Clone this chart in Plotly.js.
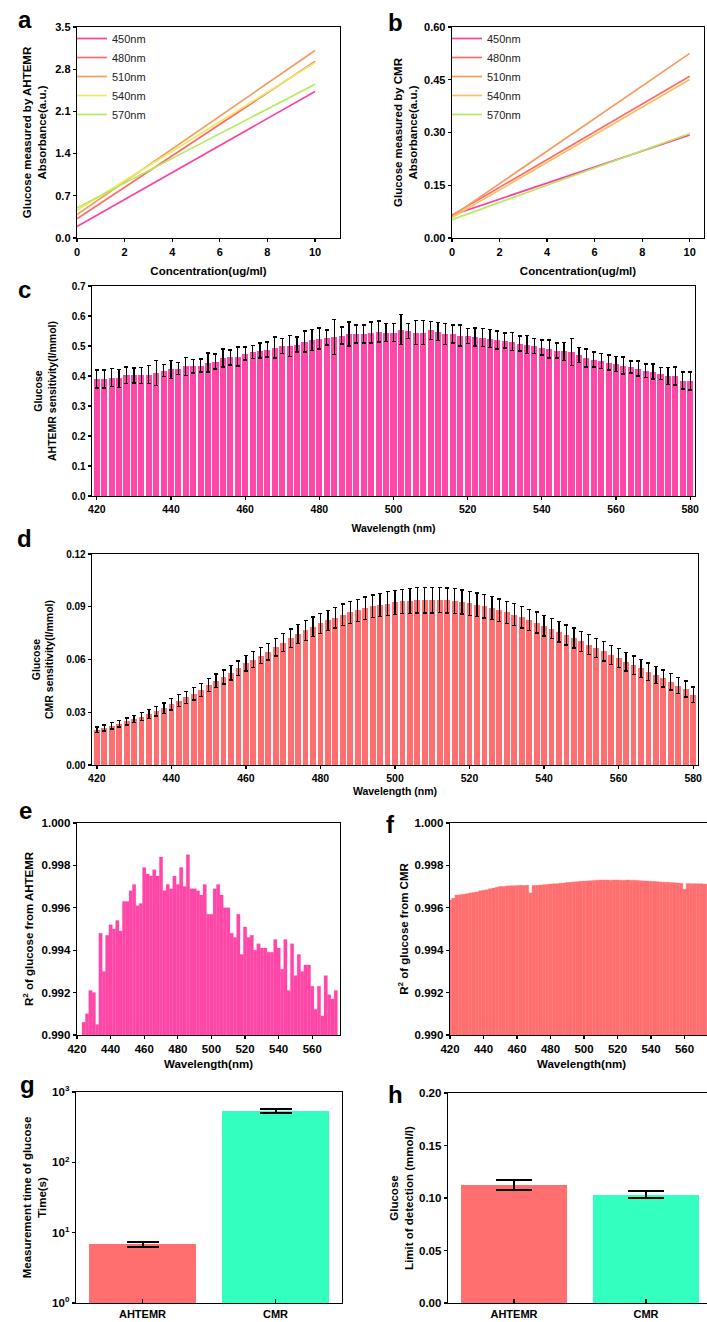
<!DOCTYPE html>
<html><head><meta charset="utf-8">
<script src="https://cdn.plot.ly/plotly-3.0.1.min.js"></script>
<style>html,body{margin:0;padding:0;overflow:hidden;background:#fff;}#chart{width:720px;height:1322px;}</style>
</head><body><div id="chart"></div>
<script>
// ---------- data ----------
const conc = [0, 10];
const seriesNames = ['450nm', '480nm', '510nm', '540nm', '570nm'];
const a450 = [0.19, 2.43];
const a480 = [0.32, 2.93];
const a510 = [0.39, 3.11];
const a540 = [0.46, 2.91];
const a570 = [0.50, 2.55];
const b450 = [0.065, 0.293];
const b480 = [0.065, 0.460];
const b510 = [0.062, 0.525];
const b540 = [0.058, 0.451];
const b570 = [0.052, 0.297];

const wlCD = [420,422,424,426,428,430,432,434,436,438,440,442,444,446,448,450,452,454,456,458,460,462,464,466,468,470,472,474,476,478,480,482,484,486,488,490,492,494,496,498,500,502,504,506,508,510,512,514,516,518,520,522,524,526,528,530,532,534,536,538,540,542,544,546,548,550,552,554,556,558,560,562,564,566,568,570,572,574,576,578,580];
const sensAHTEMR = [0.390,0.390,0.395,0.392,0.402,0.402,0.402,0.405,0.410,0.418,
  0.422,0.425,0.432,0.432,0.435,0.445,0.448,0.460,0.462,0.465,
  0.475,0.480,0.485,0.488,0.495,0.500,0.500,0.505,0.515,0.520,
  0.525,0.528,0.530,0.535,0.540,0.540,0.540,0.545,0.548,0.545,
  0.545,0.555,0.550,0.545,0.545,0.552,0.548,0.540,0.540,0.535,
  0.533,0.530,0.528,0.525,0.520,0.518,0.515,0.508,0.505,0.500,
  0.495,0.490,0.485,0.482,0.480,0.470,0.460,0.455,0.450,0.445,
  0.440,0.435,0.430,0.425,0.418,0.415,0.408,0.400,0.400,0.385,0.383];
const sensAHTEMRErr = [0.030,0.030,0.030,0.030,0.028,0.025,0.027,0.030,0.042,0.020,
  0.030,0.020,0.030,0.022,0.022,0.032,0.025,0.030,0.025,0.032,
  0.022,0.022,0.025,0.025,0.035,0.025,0.035,0.025,0.035,0.035,
  0.035,0.025,0.058,0.028,0.040,0.030,0.030,0.035,0.035,0.030,
  0.030,0.050,0.025,0.040,0.040,0.030,0.030,0.035,0.030,0.035,
  0.025,0.030,0.030,0.030,0.030,0.025,0.030,0.025,0.030,0.025,
  0.025,0.030,0.025,0.030,0.045,0.025,0.030,0.025,0.025,0.025,
  0.025,0.028,0.020,0.025,0.022,0.025,0.020,0.028,0.030,0.028,0.030];
const sensCMR = [0.0200,0.0210,0.0222,0.0235,0.0248,0.0262,0.0275,0.0290,0.0305,0.0322,
  0.0345,0.0365,0.0385,0.0405,0.0428,0.0455,0.0478,0.0500,0.0525,0.0550,
  0.0578,0.0600,0.0622,0.0645,0.0670,0.0695,0.0720,0.0745,0.0765,0.0785,
  0.0805,0.0822,0.0838,0.0855,0.0868,0.0880,0.0892,0.0902,0.0910,0.0918,
  0.0925,0.0930,0.0933,0.0937,0.0938,0.0938,0.0938,0.0936,0.0932,0.0927,
  0.0920,0.0912,0.0902,0.0892,0.0880,0.0868,0.0855,0.0840,0.0825,0.0810,
  0.0793,0.0776,0.0758,0.0740,0.0722,0.0703,0.0685,0.0666,0.0646,0.0627,
  0.0607,0.0588,0.0568,0.0550,0.0530,0.0512,0.0492,0.0473,0.0452,0.0432,0.0400];
const sensCMRErr = [0.0016,0.0017,0.0018,0.0019,0.0020,0.0021,0.0023,0.0025,0.0027,0.0030,
  0.0033,0.0034,0.0035,0.0036,0.0037,0.0038,0.0039,0.0040,0.0041,0.0042,
  0.0043,0.0045,0.0046,0.0048,0.0050,0.0051,0.0053,0.0054,0.0055,0.0056,
  0.0057,0.0058,0.0059,0.0060,0.0062,0.0063,0.0064,0.0065,0.0066,0.0067,
  0.0068,0.0069,0.0070,0.0072,0.0073,0.0073,0.0072,0.0071,0.0070,0.0069,
  0.0068,0.0067,0.0066,0.0065,0.0064,0.0063,0.0062,0.0061,0.0060,0.0060,
  0.0059,0.0058,0.0058,0.0057,0.0057,0.0056,0.0056,0.0055,0.0055,0.0054,
  0.0054,0.0053,0.0052,0.0051,0.0050,0.0049,0.0048,0.0047,0.0046,0.0045,0.0044];

const wlE = [424,426,428,430,432,434,436,438,440,442,444,446,448,450,452,454,456,458,460,462,464,466,468,470,472,474,476,478,480,482,484,486,488,490,492,494,496,498,500,502,504,506,508,510,512,514,516,518,520,522,524,526,528,530,532,534,536,538,540,542,544,546,548,550,552,554,556,558,560,562,564,566,568,570,572,574];
const r2AHTEMR = [0.9906,0.9910,0.9921,0.9920,0.9905,0.9948,0.9930,0.9947,0.9952,0.9950,
  0.9954,0.9949,0.9963,0.9963,0.9968,0.9971,0.9961,0.9962,0.9979,0.9976,
  0.9975,0.9978,0.9975,0.9984,0.9968,0.9971,0.9969,0.9975,0.9971,0.9979,
  0.9970,0.9985,0.9969,0.9969,0.9968,0.9966,0.9971,0.9957,0.9957,0.9969,
  0.9971,0.9966,0.9960,0.9960,0.9948,0.9946,0.9957,0.9938,0.9951,0.9946,
  0.9947,0.9940,0.9943,0.9941,0.9941,0.9939,0.9939,0.9945,0.9941,0.9931,
  0.9945,0.9921,0.9943,0.9928,0.9938,0.9930,0.9933,0.9933,0.9923,0.9912,
  0.9923,0.9909,0.9928,0.9919,0.9917,0.9921];

const wlF = [420,422,424,426,428,430,432,434,436,438,440,442,444,446,448,450,452,454,456,458,460,462,464,466,468,470,472,474,476,478,480,482,484,486,488,490,492,494,496,498,500,502,504,506,508,510,512,514,516,518,520,522,524,526,528,530,532,534,536,538,540,542,544,546,548,550,552,554,556,558,560,562,564,566,568,570,572,574,576];
const r2CMR = [0.99637,0.99645,0.99660,0.99662,0.99664,0.99666,0.99670,0.99672,0.99674,0.99680,
  0.99683,0.99685,0.99690,0.99693,0.99697,0.99700,0.99701,0.99703,0.99704,0.99704,
  0.99705,0.99706,0.99705,0.99706,0.99670,0.99705,0.99706,0.99707,0.99709,0.99710,
  0.99712,0.99713,0.99714,0.99716,0.99717,0.99719,0.99720,0.99722,0.99723,0.99725,
  0.99726,0.99727,0.99728,0.99729,0.99730,0.99731,0.99731,0.99731,0.99730,0.99731,
  0.99731,0.99730,0.99730,0.99731,0.99730,0.99730,0.99729,0.99728,0.99727,0.99726,
  0.99725,0.99724,0.99723,0.99722,0.99721,0.99720,0.99719,0.99718,0.99717,0.99716,
  0.99688,0.99715,0.99714,0.99714,0.99713,0.99713,0.99712,0.99712,0.99712];

const methods = ['AHTEMR', 'CMR'];
const timeVals = [6.8, 540];
const timeErr = [0.5, 35];
const lodVals = [0.1125, 0.1032];
const lodErr = [0.0048, 0.0032];
const logTickVals = [1, 10, 100, 1000];
const logTickText = ['10<sup>0</sup>', '10<sup>1</sup>', '10<sup>2</sup>', '10<sup>3</sup>'];

// ---------- styling ----------
const W = 720, H = 1322;
const FONT = 'Liberation Sans, Arial, sans-serif';
const dx = (a, b) => [a / W, b / W];
const dy = (top, bot) => [1 - bot / H, 1 - top / H];
const lineColors = ['#FF40A0', '#FF6B6B', '#F89A5E', '#EEEA5E', '#B2EC5C'];
const lineColorsB = ['#FF40A0', '#FF6B6B', '#F89A5E', '#F8C060', '#B2EC5C'];
const pink = '#FF47A8', salmon = '#FF6F6F', mint = '#33FFBE';

function axis(extra, fs) {
  return Object.assign({
    showline: true, mirror: true, linecolor: '#000', linewidth: 1.3,
    ticks: 'outside', ticklen: 3, tickwidth: 1.3, tickcolor: '#000',
    showgrid: false, zeroline: false, automargin: false,
    tickfont: {family: FONT, size: fs || 11, color: '#000', weight: 'bold'}
  }, extra);
}
function ttl(text, fs, standoff) {
  return {text: text, font: {family: FONT, size: fs || 11, color: '#000', weight: 'bold'}, standoff: standoff};
}

const traces = [];
const aSets = [a450, a480, a510, a540, a570];
const bSets = [b450, b480, b510, b540, b570];
aSets.forEach((ys, i) => traces.push({type: 'scatter', mode: 'lines', x: conc, y: ys, name: seriesNames[i],
  line: {color: lineColors[i], width: 1.7}, xaxis: 'x', yaxis: 'y', legend: 'legend'}));
bSets.forEach((ys, i) => traces.push({type: 'scatter', mode: 'lines', x: conc, y: ys, name: seriesNames[i],
  line: {color: lineColorsB[i], width: 1.7}, xaxis: 'x2', yaxis: 'y2', legend: 'legend2'}));

traces.push({type: 'bar', x: wlCD, y: sensAHTEMR, width: 1.65, marker: {color: pink, line: {width: 0}},
  error_y: {type: 'data', array: sensAHTEMRErr, color: '#000', thickness: 1.3, width: 2},
  xaxis: 'x3', yaxis: 'y3', showlegend: false});
traces.push({type: 'bar', x: wlCD, y: sensCMR, width: 1.55, marker: {color: salmon, line: {width: 0}},
  error_y: {type: 'data', array: sensCMRErr, color: '#000', thickness: 1.3, width: 2},
  xaxis: 'x4', yaxis: 'y4', showlegend: false});
traces.push({type: 'bar', x: wlE, y: r2AHTEMR, width: 2, marker: {color: pink, line: {width: 0.3, color: pink}},
  xaxis: 'x5', yaxis: 'y5', showlegend: false});
traces.push({type: 'bar', x: wlF, y: r2CMR, width: 2, marker: {color: salmon, line: {width: 0.4, color: salmon}},
  xaxis: 'x6', yaxis: 'y6', showlegend: false});
traces.push({type: 'bar', x: methods, y: timeVals, width: 0.8, marker: {color: [salmon, mint], line: {width: 0}},
  error_y: {type: 'data', array: timeErr, color: '#000', thickness: 2, width: 16},
  xaxis: 'x7', yaxis: 'y7', showlegend: false});
traces.push({type: 'bar', x: methods, y: lodVals, width: 0.8, marker: {color: [salmon, mint], line: {width: 0}},
  error_y: {type: 'data', array: lodErr, color: '#000', thickness: 2, width: 18},
  xaxis: 'x8', yaxis: 'y8', showlegend: false});

const legendStyle = (x) => ({x: x / W, y: 1 - 24 / H, xanchor: 'left', yanchor: 'top', bgcolor: 'rgba(0,0,0,0)',
  borderwidth: 0, tracegroupgap: 0, itemwidth: 30, font: {family: FONT, size: 11, color: '#222'}});

function letter(t, x, y) {
  return {text: t, xref: 'paper', yref: 'paper', x: x / W, y: 1 - y / H, xanchor: 'center', yanchor: 'middle',
    showarrow: false, font: {family: FONT, size: 24, color: '#000', weight: 'bold'}};
}

const layout = {
  width: W, height: H, margin: {l: 0, r: 0, t: 0, b: 0}, paper_bgcolor: '#fff', plot_bgcolor: '#fff',
  bargap: 0, hovermode: false, showlegend: true,
  legend: legendStyle(72), legend2: legendStyle(447),
  xaxis: axis({domain: dx(77, 340), range: [0, 11.05], dtick: 2, anchor: 'y',
    title: ttl('Concentration(ug/ml)', 11.5, 10)}),
  yaxis: axis({domain: dy(27, 238), range: [0, 3.5], dtick: 0.7, tickformat: '.1f', anchor: 'x',
    title: ttl('Glucose measured by AHTEMR<br>Absorbance(a.u.)', 11.5, 6)}),
  xaxis2: axis({domain: dx(452, 704), range: [0, 10.6], dtick: 2, anchor: 'y2',
    title: ttl('Concentration(ug/ml)', 11.5, 10)}),
  yaxis2: axis({domain: dy(27, 238), range: [0, 0.6], dtick: 0.15, tickformat: '.2f', anchor: 'x2',
    title: ttl('Glucose measured by CMR<br>Absorbance(a.u.)', 11.5, 4)}),
  xaxis3: axis({domain: dx(92, 695), range: [418.7, 581.3], dtick: 20, anchor: 'y3',
    title: ttl('Wavelength (nm)', 10.5, 10)}, 10.5),
  yaxis3: axis({domain: dy(286, 496), range: [0, 0.7], dtick: 0.1, tickformat: '.1f', anchor: 'x3',
    title: ttl('Glucose<br>AHTEMR sensitivity(l/mmol)', 10.5, 13)}, 10),
  xaxis4: axis({domain: dx(92, 698), range: [418.7, 581.3], dtick: 20, anchor: 'y4',
    title: ttl('Wavelength (nm)', 10.5, 4)}, 10.5),
  yaxis4: axis({domain: dy(554, 765), range: [0, 0.12], dtick: 0.03, tickformat: '.2f', anchor: 'x4',
    title: ttl('Glucose<br>CMR sensitivity(l/mmol)', 10.5, 10)}, 10),
  xaxis5: axis({domain: dx(77, 340), range: [420, 576.5], dtick: 20, anchor: 'y5',
    title: ttl('Wavelength(nm)', 11.5, 6)}, 11.5),
  yaxis5: axis({domain: dy(823, 1035), range: [0.990, 1.000], dtick: 0.002, tickformat: '.3f', anchor: 'x5',
    title: ttl('R<sup>2</sup> of glucose from AHTEMR', 11.5, 5)}, 11.5),
  xaxis6: axis({domain: dx(450, 713), range: [420, 577], dtick: 20, anchor: 'y6',
    title: ttl('Wavelength(nm)', 11.5, 6)}, 11.5),
  yaxis6: axis({domain: dy(823, 1035), range: [0.990, 1.000], dtick: 0.002, tickformat: '.3f', anchor: 'x6',
    title: ttl('R<sup>2</sup> of glucose from CMR', 11.5, 3)}, 11.5),
  xaxis7: axis({domain: dx(76, 342), type: 'category', range: [-0.5, 1.5], anchor: 'y7', ticks: 'inside', ticklen: 4}, 11),
  yaxis7: axis({domain: dy(1092, 1303), type: 'log', range: [0, 3], tickmode: 'array', tickvals: logTickVals,
    ticktext: logTickText, anchor: 'x7', title: ttl('Measurement time of glucose<br>Time(s)', 11.5, 3)}, 11.5),
  xaxis8: axis({domain: dx(448, 712), type: 'category', range: [-0.5, 1.5], anchor: 'y8', ticks: 'inside', ticklen: 4}, 11),
  yaxis8: axis({domain: dy(1093, 1303), range: [0, 0.2], dtick: 0.05, tickformat: '.2f', anchor: 'x8',
    title: ttl('Glucose<br>Limit of detection (mmol/l)', 11.5, 3)}, 11.5),
  annotations: [letter('a', 25, 19), letter('b', 395, 22), letter('c', 24, 289), letter('d', 24, 538),
    letter('e', 25, 810), letter('f', 391, 824), letter('g', 27, 1084), letter('h', 395, 1094)]
};

Plotly.newPlot('chart', traces, layout, {staticPlot: true, displayModeBar: false});
</script>
</body></html>
